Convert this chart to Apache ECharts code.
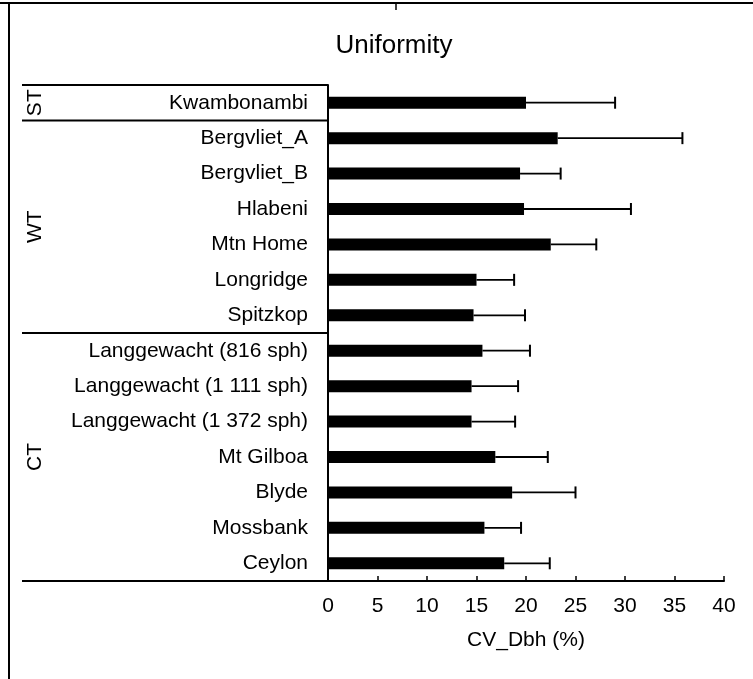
<!DOCTYPE html>
<html>
<head>
<meta charset="utf-8">
<script src="https://cdn.jsdelivr.net/npm/echarts@6/dist/echarts.min.js"></script>
<style>
html,body{margin:0;padding:0;background:#fff;}
#chart{width:753px;height:679px;}
</style>
</head>
<body>
<div id="chart"></div>
<script>
const categories = ['Kwambonambi','Bergvliet_A','Bergvliet_B','Hlabeni','Mtn Home','Longridge','Spitzkop',
  'Langgewacht (816 sph)','Langgewacht (1 111 sph)','Langgewacht (1 372 sph)','Mt Gilboa','Blyde','Mossbank','Ceylon'];
const meanCV = [20.0, 23.2, 19.4, 19.8, 22.5, 15.0, 14.7, 15.6, 14.5, 14.5, 16.9, 18.6, 15.8, 17.8];
const sdCV   = [9.0, 12.6, 4.1, 10.8, 4.6, 3.8, 5.2, 4.8, 4.7, 4.4, 5.3, 6.4, 3.7, 4.6];
const groupNames = ['ST','WT','CT'];
const groupSizes = [1, 6, 7];
const xTicks = [0,5,10,15,20,25,30,35,40];

const FONT = 'Liberation Sans, Arial, sans-serif';
const chart = echarts.init(document.getElementById('chart'));

const errData = meanCV.map((m, i) => [m, i, m + sdCV[i]]);

chart.setOption({
  animation: false,
  backgroundColor: '#fff',
  title: {
    text: 'Uniformity', left: 389, top: 28, textAlign: 'center',
    textStyle: {fontFamily: FONT, fontSize: 26, fontWeight: 'normal', color: '#000'}
  },
  grid: {left: 328, right: 29, top: 85, bottom: 98, containLabel: false},
  xAxis: {
    type: 'value', min: xTicks[0], max: xTicks[xTicks.length - 1], interval: 5,
    name: 'CV_Dbh (%)', nameLocation: 'middle', nameGap: 49,
    nameTextStyle: {fontFamily: FONT, fontSize: 21, color: '#000'},
    axisLine: {show: true, lineStyle: {color: '#000', width: 2}},
    axisTick: {show: true, inside: true, length: 5, lineStyle: {color: '#000', width: 1.5}},
    axisLabel: {fontFamily: FONT, fontSize: 21, color: '#000', margin: 15},
    splitLine: {show: false}
  },
  yAxis: {
    type: 'category', data: categories, inverse: true,
    axisLine: {show: true, lineStyle: {color: '#000', width: 2}},
    axisTick: {show: false},
    axisLabel: {fontFamily: FONT, fontSize: 21, color: '#000', margin: 20},
    splitLine: {show: false}
  },
  series: [
    {
      type: 'bar', data: meanCV, barWidth: 12,
      itemStyle: {color: '#000'}, silent: true
    },
    {
      type: 'custom', data: errData, encode: {x: [0, 2], y: 1}, silent: true, z: 3,
      renderItem: function (params, api) {
        const idx = api.value(1);
        const s = api.coord([api.value(0), idx]);
        const e = api.coord([api.value(2), idx]);
        return {
          type: 'group',
          children: [
            {type: 'line', shape: {x1: s[0], y1: s[1], x2: e[0], y2: e[1]}, style: {stroke: '#000', lineWidth: 1.8}},
            {type: 'line', shape: {x1: e[0], y1: e[1] - 6, x2: e[0], y2: e[1] + 6}, style: {stroke: '#000', lineWidth: 2}}
          ]
        };
      }
    }
  ]
});

// group separators and labels computed from the category axis
const y0 = chart.convertToPixel({yAxisIndex: 0}, 0);
const y1 = chart.convertToPixel({yAxisIndex: 0}, 1);
const step = y1 - y0;
const axisX = chart.convertToPixel({xAxisIndex: 0}, 0);
const graphics = [];
// outer frame decorations
graphics.push({type: 'line', shape: {x1: 0, y1: 3, x2: 753, y2: 3}, style: {stroke: '#000', lineWidth: 2}});
graphics.push({type: 'line', shape: {x1: 9, y1: 3, x2: 9, y2: 679}, style: {stroke: '#000', lineWidth: 2}});
graphics.push({type: 'line', shape: {x1: 396, y1: 3, x2: 396, y2: 10}, style: {stroke: '#000', lineWidth: 1.5}});
let start = 0;
graphics.push({type: 'line', shape: {x1: 22, y1: y0 - step / 2, x2: axisX, y2: y0 - step / 2}, style: {stroke: '#000', lineWidth: 2}});
groupNames.forEach((g, gi) => {
  const end = start + groupSizes[gi] - 1;
  const yb = chart.convertToPixel({yAxisIndex: 0}, end) + step / 2;
  graphics.push({type: 'line', shape: {x1: 22, y1: yb, x2: axisX, y2: yb}, style: {stroke: '#000', lineWidth: 2}});
  const yc = (chart.convertToPixel({yAxisIndex: 0}, start) + chart.convertToPixel({yAxisIndex: 0}, end)) / 2;
  graphics.push({
    type: 'text', x: 35, y: yc, rotation: Math.PI / 2,
    style: {text: g, font: '21px ' + FONT, fill: '#000', align: 'center', verticalAlign: 'middle',
            textAlign: 'center', textVerticalAlign: 'middle'}
  });
  start = end + 1;
});
chart.setOption({graphic: graphics});
</script>
</body>
</html>
